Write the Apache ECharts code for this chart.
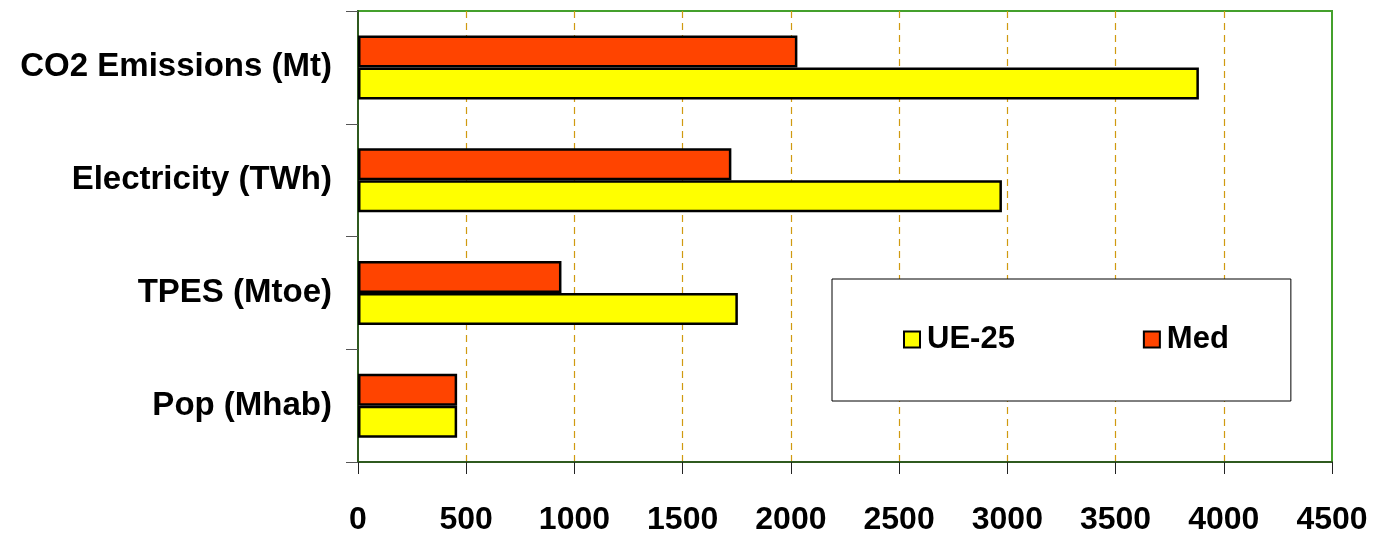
<!DOCTYPE html>
<html>
<head>
<meta charset="utf-8">
<script src="https://cdn.jsdelivr.net/npm/echarts@6/dist/echarts.min.js"></script>
<style>html,body{margin:0;padding:0;background:#fff}#c{width:1376px;height:536px}</style>
</head>
<body>
<div id="c"></div>
<script>
const categories = ['Pop (Mhab)', 'TPES (Mtoe)', 'Electricity (TWh)', 'CO2 Emissions (Mt)'];
const ue25 = [458, 1755, 2975, 3885];
const med = [458, 940, 1725, 2030];
const xTicks = [0, 500, 1000, 1500, 2000, 2500, 3000, 3500, 4000, 4500];

const FONT = '"Liberation Sans", Arial, sans-serif';
const chart = echarts.init(document.getElementById('c'), null, {renderer: 'canvas'});
chart.setOption({
  animation: false,
  backgroundColor: '#ffffff',
  grid: {left: 358, right: 44, top: 11, bottom: 74, show: true, borderColor: '#44a02c', borderWidth: 2, backgroundColor: 'transparent'},
  legend: {
    left: 832, top: 279,
    padding: [45, 62, 46, 71],
    borderColor: '#000', borderWidth: 1, backgroundColor: '#fff',
    itemWidth: 16, itemHeight: 16, itemGap: 128,
    icon: 'rect',
    textStyle: {fontFamily: FONT, fontWeight: 'bold', fontSize: 31, color: '#000', padding: [0, 0, 0, 2]},
    data: ['UE-25', 'Med']
  },
  xAxis: {
    type: 'value', min: xTicks[0], max: xTicks[xTicks.length - 1], interval: 500,
    axisLine: {show: true, lineStyle: {color: '#2f5a1f', width: 2}},
    axisTick: {show: true, length: 12, lineStyle: {color: '#222', width: 1}},
    axisLabel: {fontFamily: FONT, fontWeight: 'bold', fontSize: 32, color: '#000', margin: 42,
      formatter: v => xTicks.includes(v) ? String(v) : ''},
    splitLine: {show: true, showMinLine: false, showMaxLine: false, lineStyle: {color: '#d09a10', type: [7, 5], width: 1.2}}
  },
  yAxis: {
    type: 'category', data: categories,
    axisLine: {show: true, lineStyle: {color: '#2f5a1f', width: 2}},
    axisTick: {show: true, length: 12, lineStyle: {color: '#555', width: 1}},
    axisLabel: {fontFamily: FONT, fontWeight: 'bold', fontSize: 33, color: '#000', margin: 26},
    splitLine: {show: false}
  },
  series: [
    {name: 'Med', type: 'bar', data: med, barWidth: 32, barGap: '0%', z: 3,
      itemStyle: {color: '#ff4400', borderColor: '#000', borderWidth: 2.5}},
    {name: 'UE-25', type: 'bar', data: ue25, barWidth: 32, barGap: '0%', z: 2,
      itemStyle: {color: '#ffff00', borderColor: '#000', borderWidth: 2.5}}
  ]
});
</script>
</body>
</html>
